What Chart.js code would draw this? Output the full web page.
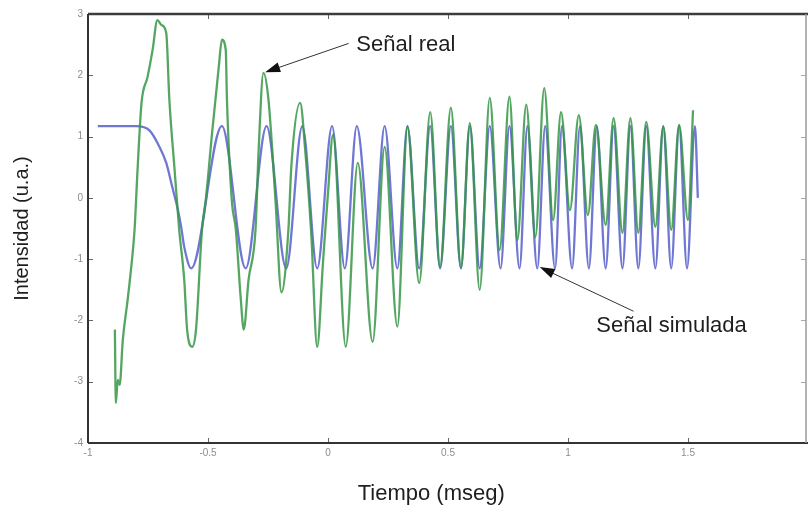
<!DOCTYPE html>
<html>
<head>
<meta charset="utf-8">
<script src="https://cdn.jsdelivr.net/npm/chart.js@4"></script>
<style>
  html, body { margin: 0; padding: 0; background: #ffffff; }
  #wrap { width: 812px; height: 509px; }
</style>
</head>
<body>
<div id="wrap"><canvas id="c" width="812" height="509"></canvas></div>
<script>
// ---- Data ----
const xTickLabels = ['-1', '-0.5', '0', '0.5', '1', '1.5'];
const yTickLabels = ['-4', '-3', '-2', '-1', '0', '1', '2', '3'];

// Señal simulada (blue): time (ms) and intensity
const simTime = [
  -0.959, -0.798, -0.744, -0.702, -0.674, -0.649, -0.628, -0.612, -0.599, -0.570,
  -0.442, -0.343, -0.256, -0.174, -0.107, -0.045, 0.017, 0.070, 0.120, 0.186,
  0.236, 0.289, 0.331, 0.380, 0.426, 0.467, 0.512, 0.554, 0.591, 0.632,
  0.674, 0.719, 0.756, 0.798, 0.831, 0.872, 0.905, 0.946, 0.975, 1.017,
  1.050, 1.087, 1.120, 1.157, 1.190, 1.227, 1.260, 1.293, 1.326, 1.364,
  1.397, 1.430, 1.463, 1.496, 1.529, 1.541
];
const simValue = [
  1.17, 1.17, 1.10, 0.83, 0.57, 0.18, -0.15, -0.47, -0.80, -1.15,
  1.17, -1.15, 1.17, -1.15, 1.17, -1.15, 1.17, -1.15, 1.17, -1.15,
  1.17, -1.15, 1.17, -1.15, 1.17, -1.15, 1.17, -1.15, 1.17, -1.15,
  1.17, -1.15, 1.17, -1.15, 1.17, -1.15, 1.17, -1.15, 1.17, -1.15,
  1.17, -1.15, 1.17, -1.15, 1.17, -1.15, 1.17, -1.15, 1.17, -1.15,
  1.17, -1.15, 1.17, -1.15, 1.17, 0.00
];

// Señal real (green): time (ms) and intensity
const realTime = [
  -0.888, -0.884, -0.876, -0.868, -0.855, -0.835, -0.818, -0.806, -0.793, -0.777,
  -0.752, -0.731, -0.711, -0.694, -0.674, -0.661, -0.640, -0.620, -0.599, -0.587,
  -0.566, -0.550, -0.525, -0.508, -0.483, -0.455, -0.442, -0.426, -0.421, -0.401,
  -0.384, -0.364, -0.351, -0.331, -0.302, -0.289, -0.269, -0.248, -0.219, -0.194,
  -0.165, -0.153, -0.116, -0.095, -0.070, -0.045, -0.021, 0.000, 0.021, 0.074,
  0.124, 0.186, 0.236, 0.289, 0.331, 0.380, 0.426, 0.467, 0.512, 0.554,
  0.591, 0.632, 0.674, 0.715, 0.756, 0.789, 0.826, 0.864, 0.901, 0.938,
  0.971, 1.008, 1.045, 1.083, 1.116, 1.157, 1.190, 1.227, 1.260, 1.293,
  1.326, 1.364, 1.397, 1.430, 1.463, 1.500, 1.521
];
const realValue = [
  -2.15, -3.35, -2.97, -3.05, -2.32, -1.67, -1.06, -0.52, 0.50, 1.55,
  1.97, 2.41, 2.90, 2.82, 2.69, 1.60, 0.50, -0.52, -1.34, -2.15,
  -2.43, -2.15, -0.52, 0.01, 1.06, 2.14, 2.58, 2.41, 1.60, -0.03,
  -0.52, -1.62, -2.15, -1.34, -0.52, 0.78, 2.04, 1.60, -0.03, -1.54,
  -0.52, 0.50, 1.55, 0.78, -0.57, -2.43, -1.06, 0.08, 1.03, -2.43,
  0.57, -2.35, 0.83, -2.10, 1.16, -1.39, 1.40, -1.13, 1.47, -1.14,
  1.22, -1.50, 1.63, -0.85, 1.65, -0.69, 1.52, -0.64, 1.79, -0.36,
  1.40, -0.20, 1.35, -0.28, 1.19, -0.44, 1.30, -0.57, 1.30, -0.57,
  1.24, -0.47, 1.16, -0.52, 1.19, -0.36, 1.43
];

// Labels and titles
const xTitle = 'Tiempo (mseg)';
const yTitle = 'Intensidad (u.a.)';
const realLabel = 'Señal real';
const simLabel = 'Señal simulada';

// ---- Build datasets ----
const simPoints = simTime.map((t, i) => ({ x: t, y: simValue[i] }));
const realPoints = realTime.map((t, i) => ({ x: t, y: realValue[i] }));

// Annotation geometry (data units)
const annotations = [
  { text: realLabel, textAt: [0.118, 2.49], from: [0.086, 2.52], to: [-0.262, 2.05] },
  { text: simLabel, textAt: [1.118, -2.09], from: [1.273, -1.85], to: [0.882, -1.13] }
];

const tickLabelFont = { family: 'Liberation Sans, Arial, sans-serif', size: 10 };
const tickColor = '#8e8e8e';
const textFont = '22px "Liberation Sans", Arial, sans-serif';

const framePlugin = {
  id: 'frame',
  afterDraw(chart) {
    const { ctx, chartArea: a, scales } = chart;
    const xs = scales.x, ys = scales.y;
    ctx.save();
    // inward tick marks
    ctx.lineWidth = 1;
    const tl = 5;
    xTickLabels.forEach(l => {
      const px = Math.round(xs.getPixelForValue(parseFloat(l))) + 0.5;
      ctx.strokeStyle = '#666';
      ctx.beginPath();
      ctx.moveTo(px, a.bottom); ctx.lineTo(px, a.bottom - tl);
      ctx.moveTo(px, a.top); ctx.lineTo(px, a.top + tl);
      ctx.stroke();
    });
    yTickLabels.forEach(l => {
      const py = Math.round(ys.getPixelForValue(parseFloat(l))) + 0.5;
      ctx.beginPath();
      ctx.strokeStyle = '#666';
      ctx.moveTo(a.left, py); ctx.lineTo(a.left + tl, py);
      ctx.stroke();
      ctx.beginPath();
      ctx.strokeStyle = '#aaa';
      ctx.moveTo(a.right - 2, py); ctx.lineTo(a.right - 2 - tl, py);
      ctx.stroke();
    });
    // frame
    ctx.lineWidth = 2.5;
    ctx.strokeStyle = '#3c3c3c';
    ctx.beginPath();
    ctx.moveTo(a.left, a.top); ctx.lineTo(a.right, a.top);
    ctx.stroke();
    ctx.lineWidth = 2;
    ctx.strokeStyle = '#333';
    ctx.beginPath();
    ctx.moveTo(a.left, a.top); ctx.lineTo(a.left, a.bottom);
    ctx.moveTo(a.left, a.bottom); ctx.lineTo(a.right, a.bottom);
    ctx.stroke();
    ctx.lineWidth = 1.5;
    ctx.strokeStyle = '#9a9a9a';
    ctx.beginPath();
    ctx.moveTo(a.right - 2, a.top); ctx.lineTo(a.right - 2, a.bottom);
    ctx.stroke();

    // annotations: arrows + text
    annotations.forEach(an => {
      const x1 = xs.getPixelForValue(an.from[0]), y1 = ys.getPixelForValue(an.from[1]);
      const x2 = xs.getPixelForValue(an.to[0]), y2 = ys.getPixelForValue(an.to[1]);
      const ang = Math.atan2(y2 - y1, x2 - x1);
      const hl = 15, hw = 5;
      ctx.strokeStyle = '#333';
      ctx.lineWidth = 1;
      ctx.beginPath();
      ctx.moveTo(x1, y1);
      ctx.lineTo(x2 - Math.cos(ang) * hl * 0.8, y2 - Math.sin(ang) * hl * 0.8);
      ctx.stroke();
      ctx.fillStyle = '#111';
      ctx.beginPath();
      ctx.moveTo(x2, y2);
      ctx.lineTo(x2 - Math.cos(ang) * hl - Math.sin(ang) * hw, y2 - Math.sin(ang) * hl + Math.cos(ang) * hw);
      ctx.lineTo(x2 - Math.cos(ang) * hl + Math.sin(ang) * hw, y2 - Math.sin(ang) * hl - Math.cos(ang) * hw);
      ctx.closePath();
      ctx.fill();
      ctx.font = textFont;
      ctx.fillStyle = '#1e1e1e';
      ctx.textAlign = 'left';
      ctx.textBaseline = 'middle';
      ctx.fillText(an.text, xs.getPixelForValue(an.textAt[0]), ys.getPixelForValue(an.textAt[1]));
    });

    // x axis title
    ctx.font = textFont;
    ctx.fillStyle = '#1e1e1e';
    ctx.textAlign = 'center';
    ctx.textBaseline = 'middle';
    ctx.fillText(xTitle, xs.getPixelForValue(0.43), 494);
    ctx.restore();
  }
};

new Chart(document.getElementById('c'), {
  type: 'line',
  data: {
    datasets: [
      {
        label: realLabel,
        data: realPoints,
        borderColor: 'rgba(55,150,70,0.85)',
        borderWidth: 2.3,
        pointRadius: 0,
        cubicInterpolationMode: 'monotone',
        fill: false
      },
      {
        label: simLabel,
        data: simPoints,
        borderColor: 'rgba(75,85,200,0.8)',
        borderWidth: 2.3,
        pointRadius: 0,
        cubicInterpolationMode: 'monotone',
        fill: false
      }
    ]
  },
  options: {
    responsive: false,
    animation: false,
    layout: { padding: { top: 14, right: 0, left: 0, bottom: 0 } },
    plugins: {
      legend: { display: false },
      tooltip: { enabled: false },
      title: { display: false }
    },
    scales: {
      x: {
        type: 'linear',
        min: -1, max: 2,
        grid: { display: false, drawTicks: false },
        border: { display: false },
        ticks: {
          stepSize: 0.5,
          padding: 4,
          autoSkip: false,
          maxRotation: 0,
          font: tickLabelFont,
          color: tickColor,
          callback: (v) => {
            const s = String(Math.round(v * 10) / 10);
            return xTickLabels.includes(s) ? s : '';
          }
        },
        afterFit: (s) => { s.height = 66; }
      },
      y: {
        type: 'linear',
        min: -4, max: 3,
        grid: { display: false, drawTicks: false },
        border: { display: false },
        ticks: {
          stepSize: 1,
          padding: 5,
          font: tickLabelFont,
          color: tickColor,
          callback: (v) => {
            const s = String(v);
            return yTickLabels.includes(s) ? s : '';
          }
        },
        title: {
          display: true,
          text: yTitle,
          font: { family: 'Liberation Sans, Arial, sans-serif', size: 20 },
          color: '#1e1e1e',
          padding: { top: 10, bottom: 0 }
        },
        afterFit: (s) => { s.width = 88; }
      }
    }
  },
  plugins: [framePlugin]
});
</script>
</body>
</html>
